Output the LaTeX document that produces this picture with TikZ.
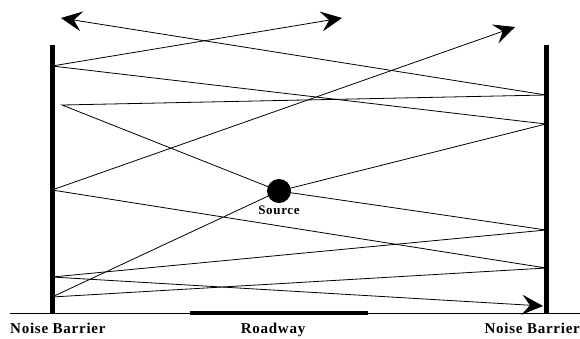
\documentclass[tikz,border=0pt]{standalone}
\usepackage{fontspec}
\setmainfont{Liberation Serif}
\newfontfamily\lblfont[LetterSpace=5]{Liberation Serif}
\usetikzlibrary{arrows.meta}
\tikzset{ray/.style={line width=0.8pt}}
\tikzset{wave/.style={ray,-{Stealth[length=21pt,width=20pt,inset=8pt]}}}
\tikzset{barrier/.style={line width=5pt}}
\tikzset{lbl/.style={font=\lblfont\bfseries\fontsize{15}{17}\selectfont,inner sep=0pt}}

\begin{document}
\begin{tikzpicture}[x=1pt,y=-1pt]
\useasboundingbox (0,0) rectangle (580,338);
% ground and roadway
\coordinate (g1) at (10,313);
\coordinate (g2) at (580,313);
\coordinate (rd1) at (190,313);
\coordinate (rd2) at (368,313);
\draw[ray] (g1) -- (g2);
\draw[line width=4pt] (rd1) -- (rd2);
% barriers
\coordinate (lb1) at (52,45);
\coordinate (lb2) at (52,313);
\coordinate (rb1) at (546,45);
\coordinate (rb2) at (546,313);
\draw[barrier] (lb1) -- (lb2);
\draw[barrier] (rb1) -- (rb2);
% reflection points
\coordinate (p) at (62,105);
\coordinate (l1) at (52,66);
\coordinate (l3) at (52,190);
\coordinate (l4) at (52,277);
\coordinate (l5) at (52,297);
\coordinate (r1) at (546,95);
\coordinate (r2) at (546,124);
\coordinate (r3) at (546,230);
\coordinate (r4) at (546,268);
% arrow ends
\coordinate (a1) at (61,18);
\coordinate (a2) at (342,18);
\coordinate (a3) at (543,306);
\coordinate (a4) at (515,27);
% source
\node[circle,fill,inner sep=0pt,minimum size=24pt](src) at (279,191) {};
\node[lbl,font=\lblfont\bfseries\fontsize{13}{15}\selectfont,anchor=north,yshift=-2pt](srclbl) at (src.south) {Source};
% rays
\draw[ray] (src.center) -- (p) -- (r1);
\draw[wave] (r1) -- (a1);
\draw[ray] (src.center) -- (r2) -- (l1);
\draw[wave] (l1) -- (a2);
\draw[ray] (src.center) -- (r3) -- (l4);
\draw[wave] (l4) -- (a3);
\draw[ray] (src.center) -- (l5) -- (r4) -- (l3);
\draw[wave] (l3) -- (a4);
% labels
\node[lbl,anchor=base west](nbl) at (10,333) {Noise Barrier};
\node[lbl,anchor=base](road) at (273,333) {Roadway};
\node[lbl,anchor=base east](nbr) at (580,333) {Noise Barrier};
\end{tikzpicture}
\end{document}
